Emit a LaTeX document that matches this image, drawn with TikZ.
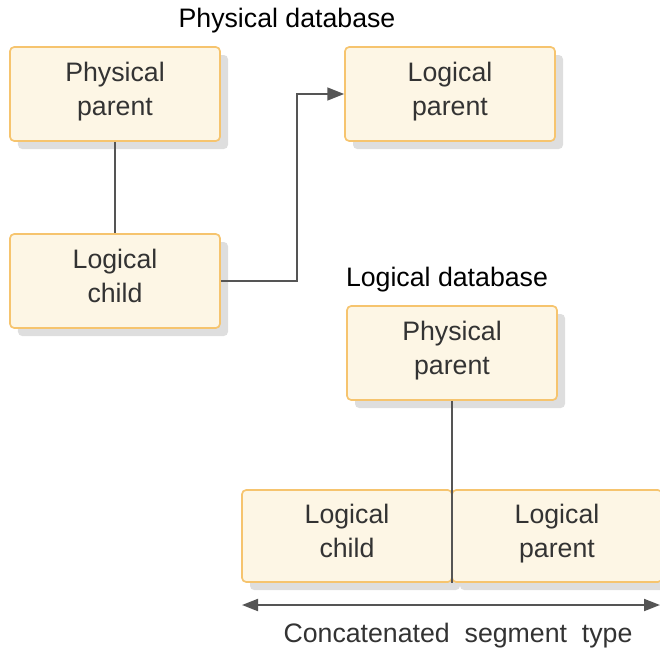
\documentclass[tikz,border=0pt]{standalone}
\usepackage{fontspec}
\setmainfont{Liberation Sans}
\usepackage{tikz}
\usetikzlibrary{arrows.meta,positioning,calc,shadows}
\definecolor{ink}{RGB}{51,51,51}
\definecolor{cream}{RGB}{253,246,229}
\definecolor{amber}{RGB}{246,196,110}
\definecolor{shade}{RGB}{222,222,222}
\definecolor{wire}{RGB}{85,85,85}
\tikzset{
  segment/.style={draw=amber,fill=cream,line width=1.2pt,rounded corners=3pt,
    minimum width=5.25cm,minimum height=2.35cm,align=center,text=ink,
    font=\fontsize{19}{24}\selectfont,
    execute at begin node={\rule{0pt}{21pt}},execute at end node=\strut,
    drop shadow={shadow xshift=0.2cm,shadow yshift=-0.2cm,fill=shade,opacity=1}},
  half/.style={segment,minimum height=2.3cm},
  title/.style={font=\fontsize{19}{22}\selectfont,text=black},
  link/.style={wire,line width=1.4pt},
  pointer/.style={link,-{Triangle[length=4.2mm,width=3.2mm]}},
  span/.style={link,{Triangle[length=4mm,width=3mm]}-{Triangle[length=4mm,width=3mm]}}
}
\begin{document}
\begin{tikzpicture}
  \useasboundingbox (0,0) rectangle (16.5,-16.3);
  % physical database
  \node[title] (physdb) at (7.175,-0.52) {Physical database};
  \node[segment] (pphys) at (2.875,-2.35) {Physical\\parent};
  \node[segment] (plog) at (11.25,-2.35) {Logical\\parent};
  \node[segment] (lchild) at (2.875,-7.025) {Logical\\child};
  \draw[link] (pphys.south) -- (lchild.north);
  \draw[pointer] (lchild.east) -- ++(1.9,0) |- (plog.west);
  % logical database
  \node[title] (logdb) at (11.175,-7.0) {Logical database};
  \node[segment] (lphys) at (11.3,-8.825) {Physical\\parent};
  \node[half] (cchild) at (8.675,-13.4) {Logical\\child};
  \node[half] (cparent) at (13.925,-13.4) {Logical\\parent};
  \draw[link] (lphys.south) -- (lphys.south |- cchild.south);
  % extent of the concatenated segment
  \coordinate (cleft) at (6.05,-15.125);
  \coordinate (cright) at (16.5,-15.125);
  \draw[span] (cleft) -- (cright);
  \node[title,text=ink] (ctype) at (11.45,-15.9) {Concatenated\ \ segment\ \ type};
\end{tikzpicture}
\end{document}
